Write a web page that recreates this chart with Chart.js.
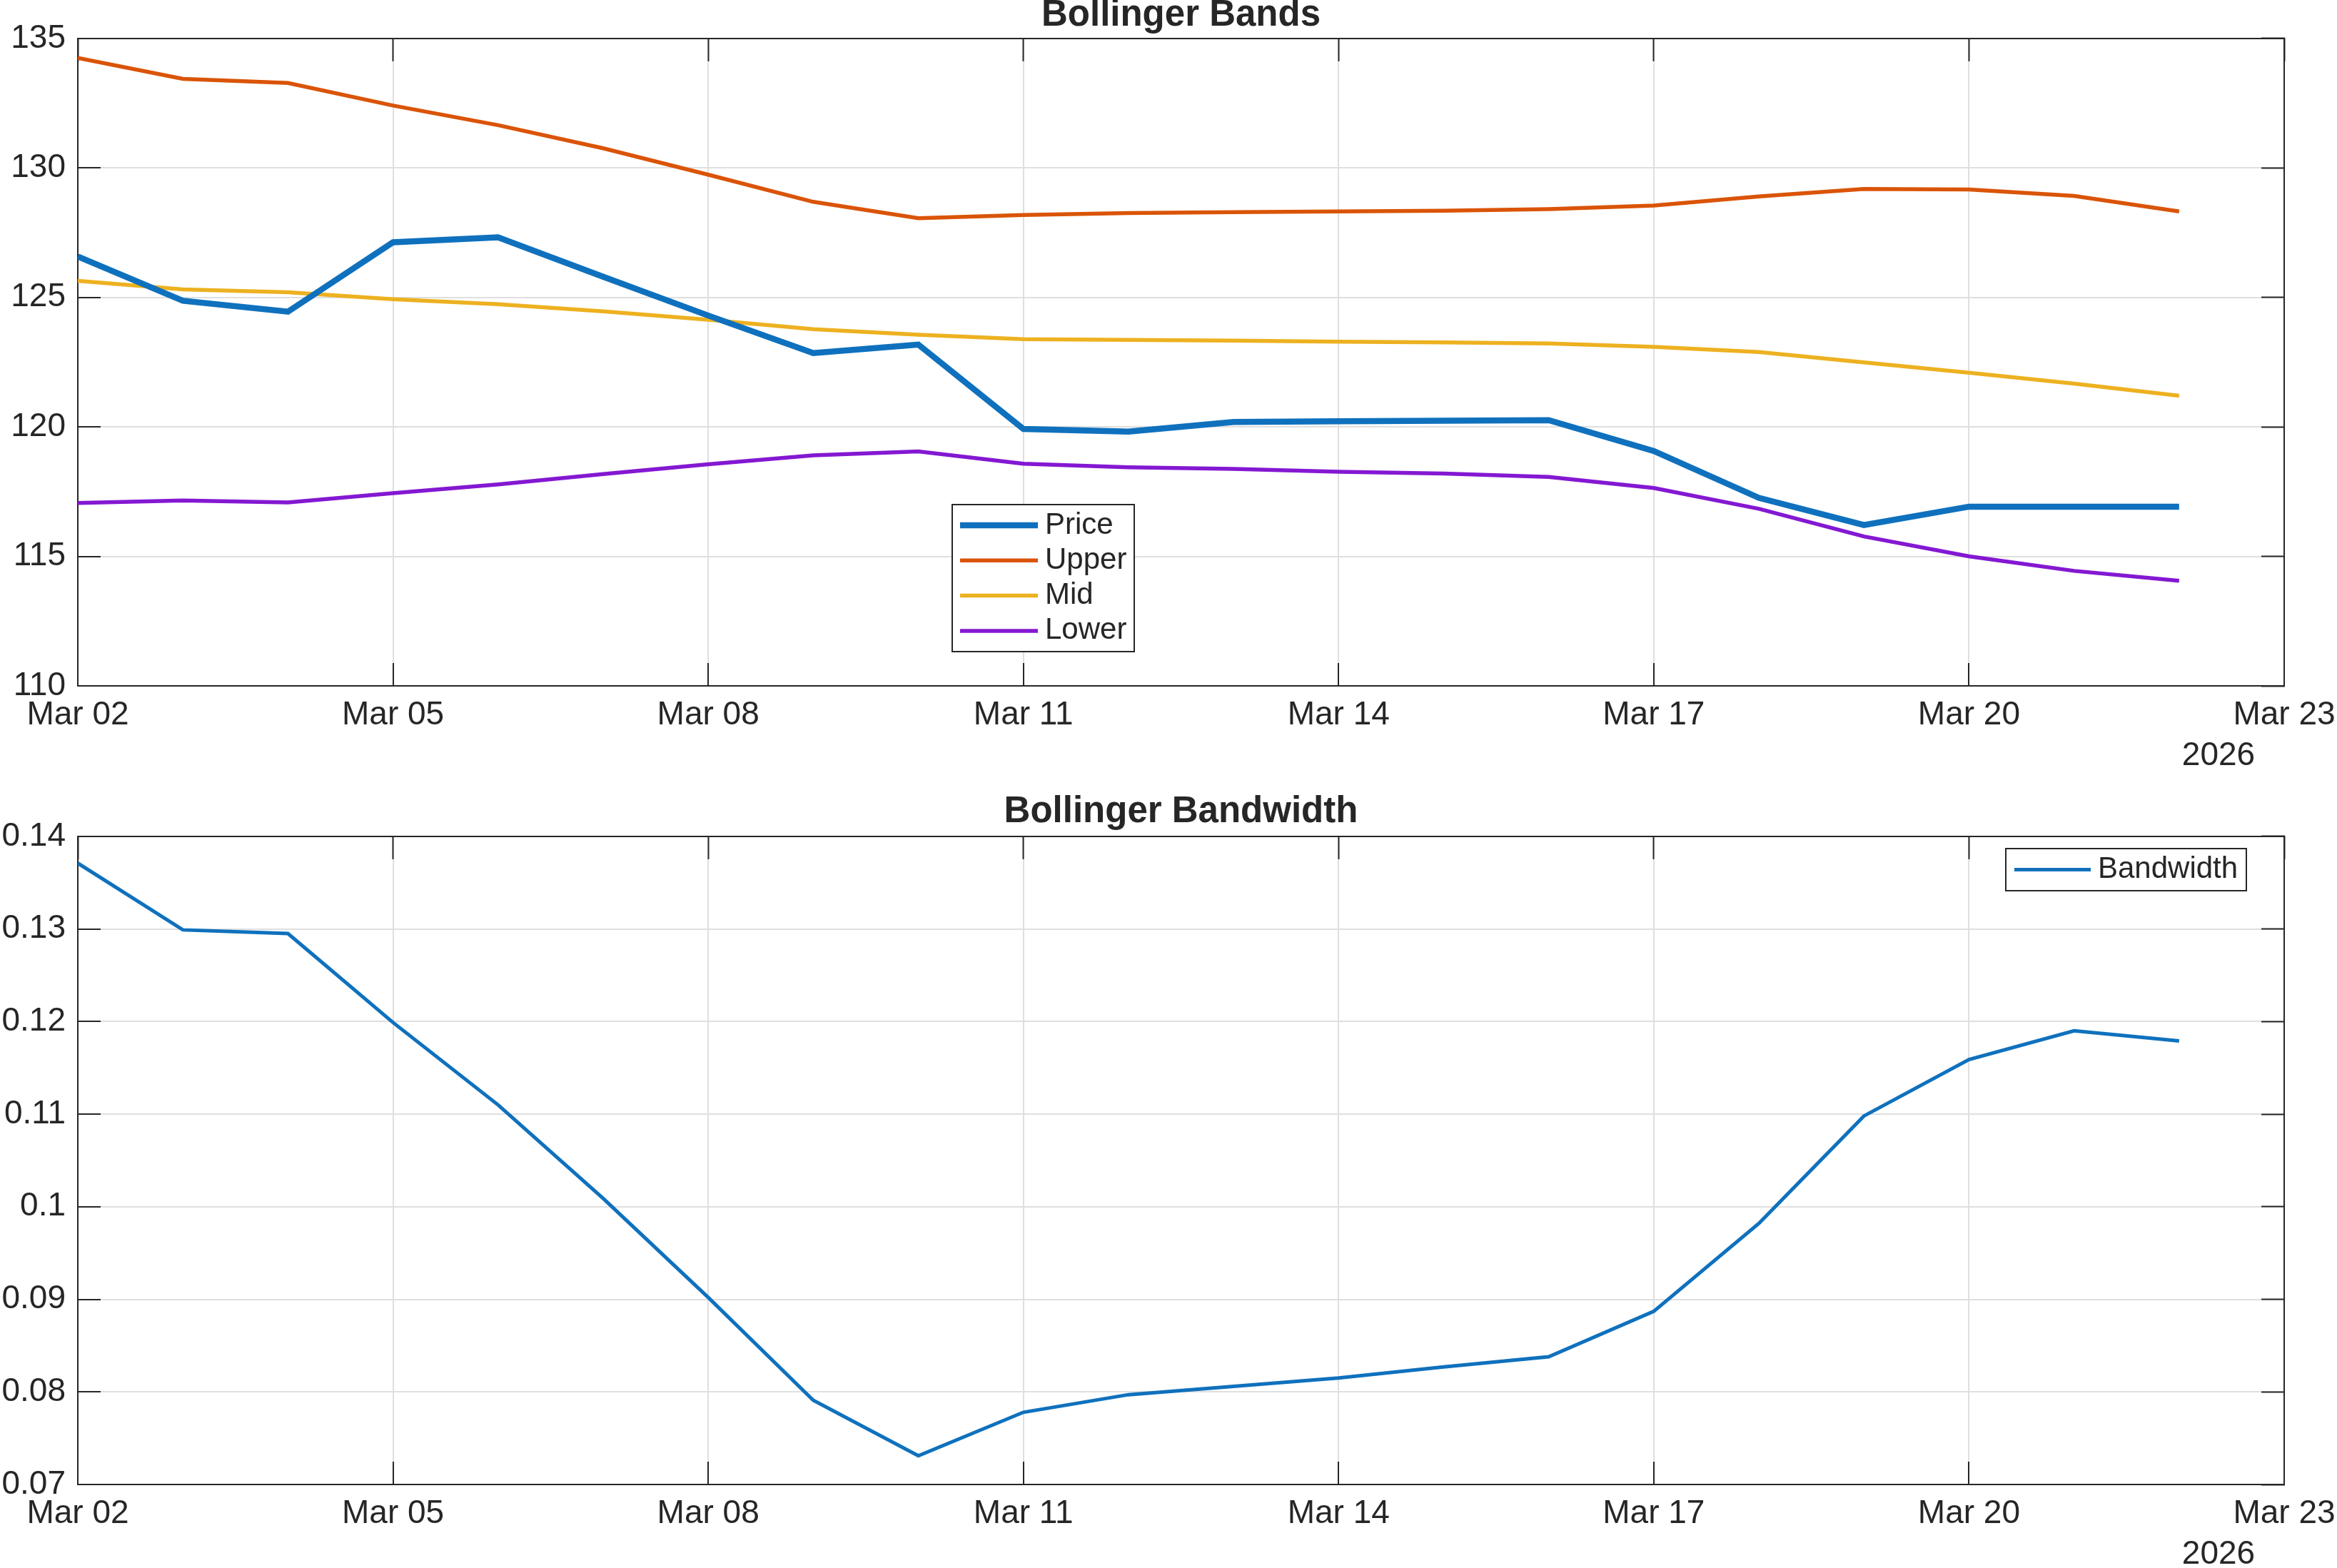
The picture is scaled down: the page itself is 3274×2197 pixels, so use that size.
<!DOCTYPE html>
<html>
<head>
<meta charset="utf-8">
<title>Bollinger Bands</title>
<script src="https://cdn.jsdelivr.net/npm/chart.js@4.4.1/dist/chart.umd.min.js"></script>
<style>
  html, body { margin: 0; padding: 0; background: #fff; }
  .panel { position: absolute; left: 0; }
  #top-panel { top: 0; }
  #bottom-panel { top: 1100px; }
</style>
</head>
<body>
<div class="panel" id="top-panel"><canvas id="bands-chart" width="3274" height="1100"></canvas></div>
<div class="panel" id="bottom-panel"><canvas id="bandwidth-chart" width="3274" height="1097"></canvas></div>
<script>
// day of March 2026 for every sample
var days = [2, 3, 4, 5, 6, 7, 8, 9, 10, 11, 12, 13, 14, 15, 16, 17, 18, 19, 20, 21, 22];

var price = [126.58, 124.87, 124.45, 127.13, 127.32, 125.80, 124.30, 122.85, 123.18, 119.92, 119.82,
             120.19, 120.22, 120.24, 120.26, 119.07, 117.26, 116.21, 116.92, 116.92, 116.92];
var upper = [134.25, 133.44, 133.28, 132.41, 131.65, 130.76, 129.74, 128.69, 128.06, 128.18, 128.26,
             128.29, 128.32, 128.35, 128.41, 128.55, 128.90, 129.19, 129.17, 128.92, 128.32];
var mid   = [125.64, 125.31, 125.20, 124.93, 124.74, 124.46, 124.14, 123.77, 123.56, 123.39, 123.36,
             123.33, 123.29, 123.26, 123.22, 123.09, 122.89, 122.49, 122.09, 121.67, 121.20];
var lower = [117.06, 117.16, 117.08, 117.44, 117.78, 118.18, 118.56, 118.90, 119.05, 118.58, 118.44,
             118.38, 118.27, 118.20, 118.07, 117.64, 116.84, 115.77, 115.00, 114.44, 114.06];
var bandwidth = [0.1371, 0.1299, 0.1295, 0.1199, 0.1110, 0.1009, 0.0902, 0.0791, 0.0731, 0.0778, 0.0797,
                 0.0806, 0.0815, 0.0827, 0.0838, 0.0887, 0.0982, 0.1098, 0.1159, 0.1190, 0.1179];

// axis ticks
var xTickDays = [2, 5, 8, 11, 14, 17, 20, 23];
var xTickLabels = ['Mar 02', 'Mar 05', 'Mar 08', 'Mar 11', 'Mar 14', 'Mar 17', 'Mar 20', 'Mar 23'];
var yearLabel = '2026';
var bandTicks = [110, 115, 120, 125, 130, 135];
var bandTickLabels = ['110', '115', '120', '125', '130', '135'];
var bwTicks = [0.07, 0.08, 0.09, 0.10, 0.11, 0.12, 0.13, 0.14];
var bwTickLabels = ['0.07', '0.08', '0.09', '0.1', '0.11', '0.12', '0.13', '0.14'];

var frameColor = '#262626';
var gridColor = '#dfdfdf';
var fontFamily = '"Liberation Sans", Arial, Helvetica, sans-serif';

function pts(values) {
  return days.map(function (d, i) { return { x: d, y: values[i] }; });
}

function fixedTicks(values) {
  return function (scale) {
    scale.ticks = values.map(function (v) { return { value: v }; });
  };
}

// fix axis size and drop the auto padding chart.js adds for edge labels
function fixSize(w, h) {
  return function (s) {
    if (w !== null) s.width = w;
    if (h !== null) s.height = h;
    s.paddingLeft = s.paddingRight = s.paddingTop = s.paddingBottom = 0;
  };
}

// MATLAB style box: inward ticks on all four sides
function buildScales(yTicks, yLabels, xAxisHeight) {
  var tickFont = { family: fontFamily, size: 46 };
  var inwardGrid = { drawOnChartArea: false, tickLength: -32, tickColor: frameColor, tickWidth: 2 };
  var border = { color: frameColor, width: 2 };
  return {
    x: {
      type: 'linear', position: 'bottom', min: xTickDays[0], max: xTickDays[xTickDays.length - 1],
      afterBuildTicks: fixedTicks(xTickDays),
      afterFit: fixSize(null, xAxisHeight),
      ticks: {
        autoSkip: false, maxRotation: 0, padding: 46, color: frameColor, font: tickFont,
        callback: function (v, i) { return xTickLabels[i]; }
      },
      grid: { color: gridColor, lineWidth: 2, tickLength: -32, tickColor: frameColor, tickWidth: 2 },
      border: border
    },
    xTop: {
      type: 'linear', position: 'top', min: xTickDays[0], max: xTickDays[xTickDays.length - 1],
      afterBuildTicks: fixedTicks(xTickDays),
      afterFit: fixSize(null, 0),
      ticks: { display: false },
      grid: inwardGrid,
      border: border
    },
    y: {
      type: 'linear', position: 'left', min: yTicks[0], max: yTicks[yTicks.length - 1],
      afterBuildTicks: fixedTicks(yTicks),
      afterFit: fixSize(109, null),
      ticks: {
        padding: 49, color: frameColor, font: tickFont,
        callback: function (v, i) { return yLabels[i]; }
      },
      grid: { color: gridColor, lineWidth: 2, tickLength: -32, tickColor: frameColor, tickWidth: 2 },
      border: border
    },
    yRight: {
      type: 'linear', position: 'right', min: yTicks[0], max: yTicks[yTicks.length - 1],
      afterBuildTicks: fixedTicks(yTicks),
      afterFit: fixSize(0, null),
      ticks: { display: false },
      grid: inwardGrid,
      border: border
    }
  };
}

// legend box drawn at a fixed spot inside the axes
var boxLegend = {
  id: 'boxLegend',
  afterDraw: function (chart, args, o) {
    var ctx = chart.ctx;
    ctx.save();
    ctx.fillStyle = '#fff';
    ctx.fillRect(o.left, o.top, o.width, o.height);
    ctx.strokeStyle = frameColor;
    ctx.lineWidth = 2;
    ctx.strokeRect(o.left, o.top, o.width, o.height);
    chart.data.datasets.forEach(function (ds, i) {
      var y = o.firstRow + i * o.rowStep;
      ctx.strokeStyle = ds.borderColor;
      ctx.lineWidth = ds.borderWidth;
      ctx.beginPath();
      ctx.moveTo(o.lineX0, y);
      ctx.lineTo(o.lineX1, y);
      ctx.stroke();
      ctx.fillStyle = frameColor;
      ctx.font = '42px ' + fontFamily;
      ctx.textBaseline = 'middle';
      ctx.textAlign = 'left';
      ctx.fillText(ds.label, o.textX, y);
    });
    ctx.restore();
  }
};

// year label under the last date tick
var yearTag = {
  id: 'yearTag',
  afterDraw: function (chart) {
    var ctx = chart.ctx;
    var xs = chart.scales.x;
    ctx.save();
    ctx.fillStyle = frameColor;
    ctx.font = '46px ' + fontFamily;
    ctx.textAlign = 'center';
    ctx.textBaseline = 'middle';
    ctx.fillText(yearLabel, xs.right - 92, chart.chartArea.bottom + 98);
    ctx.restore();
  }
};

function titleOpts(text, padTop, padBottom) {
  return {
    display: true, text: text, fullSize: false, color: frameColor,
    font: { family: fontFamily, size: 51, weight: 'bold', lineHeight: 0.86 },
    padding: { top: padTop, bottom: padBottom }
  };
}

var bandsCtx = document.getElementById('bands-chart').getContext('2d');
var bandsChart = new Chart(bandsCtx, {
  type: 'line',
  data: {
    datasets: [
      { label: 'Price', data: pts(price), borderColor: '#0f71bd', borderWidth: 8.5 },
      { label: 'Upper', data: pts(upper), borderColor: '#da5408', borderWidth: 5.5 },
      { label: 'Mid', data: pts(mid), borderColor: '#edb120', borderWidth: 5.5 },
      { label: 'Lower', data: pts(lower), borderColor: '#8418d2', borderWidth: 5.5 }
    ]
  },
  options: {
    responsive: false,
    animation: false,
    devicePixelRatio: 1,
    layout: { padding: { left: 0, right: 74, top: 0, bottom: 0 } },
    elements: { point: { radius: 0 }, line: { tension: 0, fill: false } },
    scales: buildScales(bandTicks, bandTickLabels, 139),
    plugins: {
      legend: { display: false },
      tooltip: { enabled: false },
      title: titleOpts('Bollinger Bands', 0, 10),
      boxLegend: { left: 1334, top: 707, width: 255, height: 206, lineX0: 1345, lineX1: 1454, textX: 1464, firstRow: 736, rowStep: 49.3 }
    }
  },
  plugins: [boxLegend, yearTag]
});

var bwCtx = document.getElementById('bandwidth-chart').getContext('2d');
var bwChart = new Chart(bwCtx, {
  type: 'line',
  data: {
    datasets: [
      { label: 'Bandwidth', data: pts(bandwidth), borderColor: '#0f71bd', borderWidth: 5 }
    ]
  },
  options: {
    responsive: false,
    animation: false,
    devicePixelRatio: 1,
    layout: { padding: { left: 0, right: 74, top: 0, bottom: 0 } },
    elements: { point: { radius: 0 }, line: { tension: 0, fill: false } },
    scales: buildScales(bwTicks, bwTickLabels, 117),
    plugins: {
      legend: { display: false },
      tooltip: { enabled: false },
      title: titleOpts('Bollinger Bandwidth', 16, 12),
      boxLegend: { left: 2810, top: 89, width: 337, height: 59, lineX0: 2822, lineX1: 2929, textX: 2939, firstRow: 118.5, rowStep: 0 }
    }
  },
  plugins: [boxLegend, yearTag]
});
</script>
</body>
</html>
